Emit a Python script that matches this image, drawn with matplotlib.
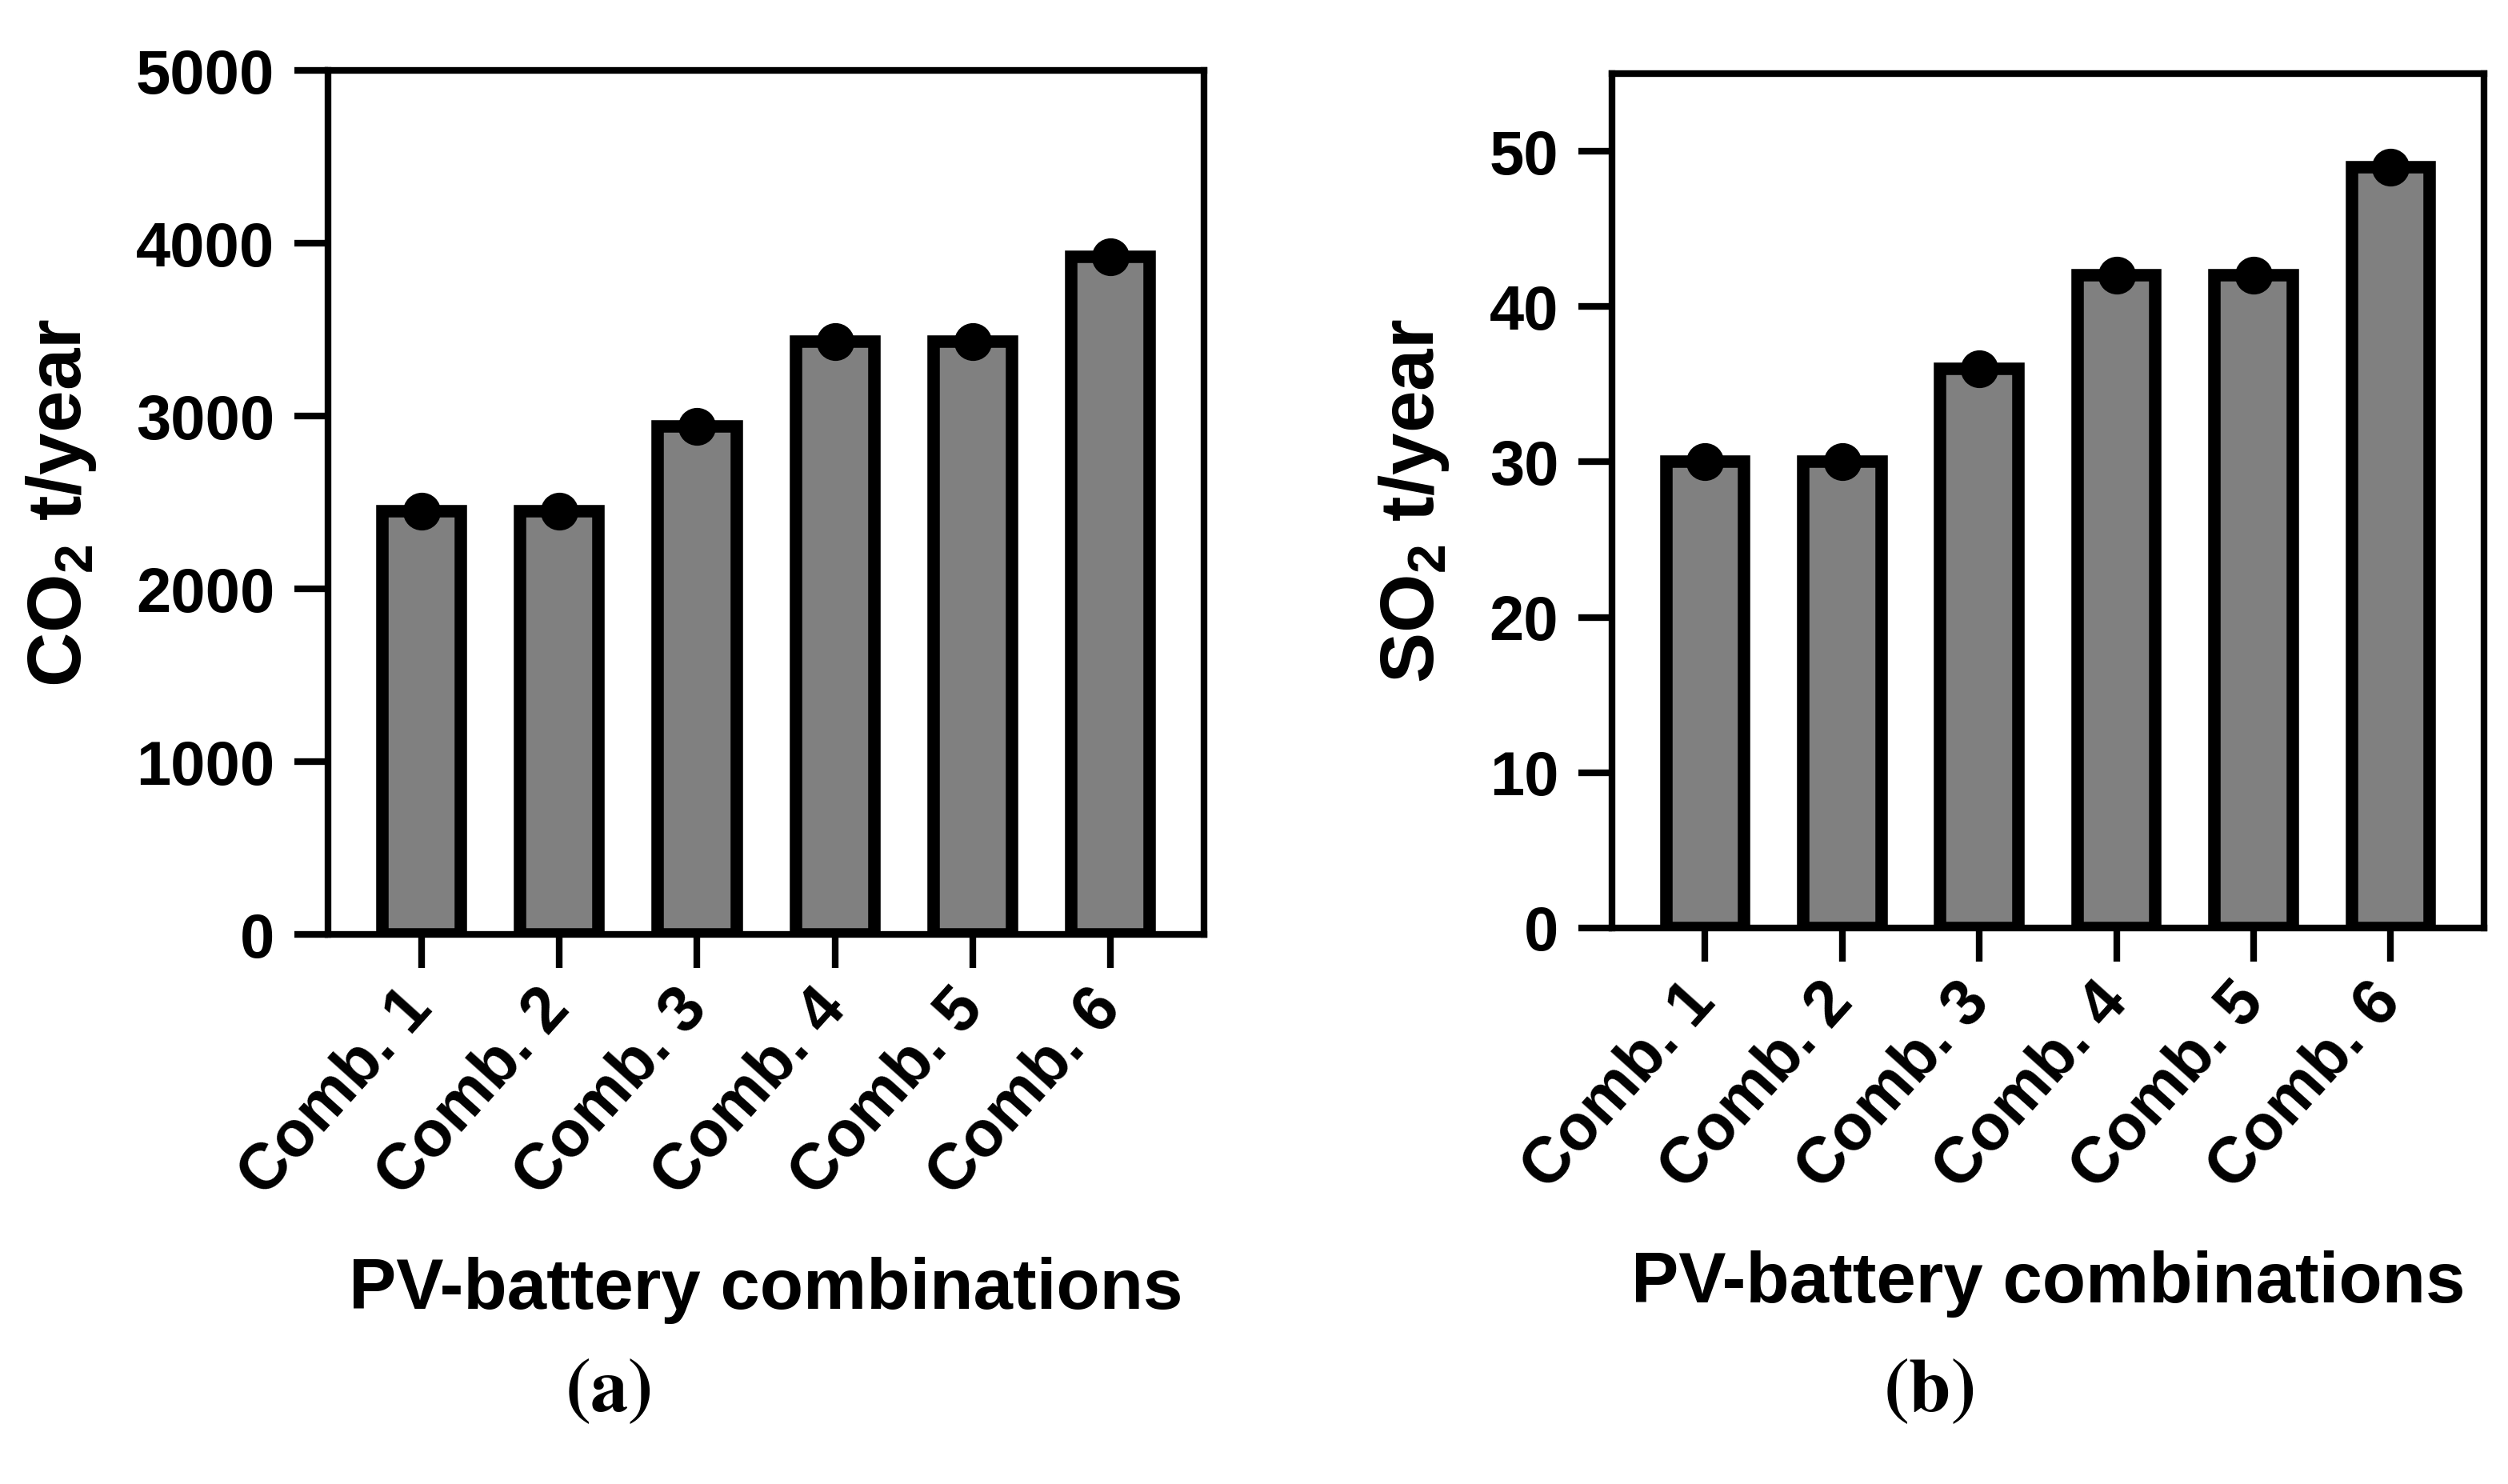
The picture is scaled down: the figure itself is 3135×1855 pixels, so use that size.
import numpy as np
import matplotlib
matplotlib.use('Agg')
import matplotlib.pyplot as plt

# данные
combos = ['Comb. 1', 'Comb. 2', 'Comb. 3', 'Comb. 4', 'Comb. 5', 'Comb. 6']
co2_vals = [2450, 2450, 2940, 3430, 3430, 3920]   # t/year
so2_vals = [30, 30, 36, 42, 42, 49]               # t/year
co2_ticks = [0, 1000, 2000, 3000, 4000, 5000]
so2_ticks = [0, 10, 20, 30, 40, 50]

plt.rcParams['font.family'] = ['Liberation Sans', 'DejaVu Sans']
plt.rcParams['font.weight'] = 'bold'
plt.rcParams['mathtext.fontset'] = 'custom'
plt.rcParams['mathtext.rm'] = 'Liberation Sans'
plt.rcParams['mathtext.it'] = 'Liberation Sans:italic'
plt.rcParams['mathtext.bf'] = 'Liberation Sans:bold'

fig = plt.figure(figsize=(15.675, 9.275), dpi=200)
ax_a = fig.add_axes([0.1308, 0.3703, 0.3493, 0.5822])
ax_b = fig.add_axes([0.6427, 0.3747, 0.3477, 0.5757])


def draw_panel(ax, values, yticks, ymax, ylabel):
    x = np.arange(len(combos))
    ax.bar(x, values, width=0.57, color='#808080', edgecolor='black',
           linewidth=5.6, zorder=2)
    ax.plot(x, values, 'o', color='black', markersize=16, zorder=3,
            clip_on=False)
    ax.set_xlim(-0.68, len(combos) - 1 + 0.68)
    ax.set_ylim(0, ymax)
    ax.set_yticks(yticks)
    ax.set_yticklabels([str(t) for t in yticks], fontsize=28, fontweight='bold')
    ax.set_xticks(x)
    ax.set_xticklabels(combos, fontsize=29, fontweight='bold', rotation=48,
                       ha='right', va='center', rotation_mode='anchor')
    for s in ax.spines.values():
        s.set_linewidth(3)
    ax.tick_params(axis='both', direction='out', length=15, width=3)
    ax.tick_params(axis='y', pad=9)
    ax.tick_params(axis='x', pad=14)
    ax.set_ylabel(ylabel, fontsize=34, fontweight='bold', labelpad=17)
    ax.set_xlabel('PV-battery combinations', fontsize=32, fontweight='bold',
                  labelpad=22)


draw_panel(ax_a, co2_vals, co2_ticks, 5000, 'CO$_2$ t/year')
draw_panel(ax_b, so2_vals, so2_ticks, 55, 'SO$_2$ t/year')

# подписи (a) и (b)
fig.text(0.2424, 0.062, r'$(\mathbf{a})$', fontsize=34, ha='center',
         va='center', math_fontfamily='stix')
fig.text(0.769, 0.062, r'$(\mathbf{b})$', fontsize=34, ha='center',
         va='center', math_fontfamily='stix')

fig.savefig('out.png', dpi=200)
